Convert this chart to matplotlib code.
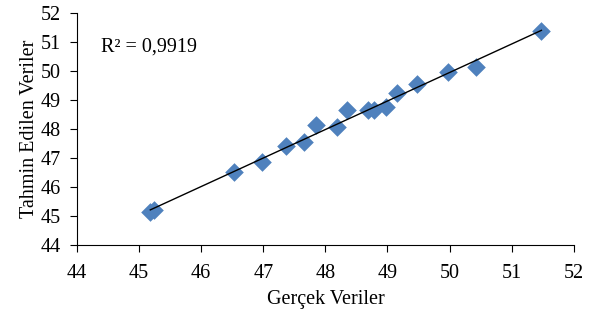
import numpy as np
import matplotlib.pyplot as plt

plt.rcParams['font.family'] = ['Liberation Serif', 'DejaVu Serif']

# gercek (actual) vs tahmin (predicted)
gercek = [45.18, 45.24, 46.53, 46.98, 47.37, 47.66, 47.85, 48.18, 48.35,
          48.69, 48.79, 48.98, 49.16, 49.48, 49.98, 50.42, 51.48]
tahmin = [45.15, 45.22, 46.52, 46.86, 47.41, 47.55, 48.14, 48.05, 48.66,
          48.65, 48.65, 48.76, 49.24, 49.55, 49.95, 50.14, 51.38]
ticks = [44, 45, 46, 47, 48, 49, 50, 51, 52]

x = np.array(gercek)
y = np.array(tahmin)
k, b = np.polyfit(x, y, 1)

fig = plt.figure(figsize=(6.02, 3.14), dpi=100)
ax = fig.add_axes([0.128, 0.22, 0.825, 0.739])

ax.scatter(x, y, marker='D', s=90, color='#4F81BD', zorder=2, linewidths=0)
xx = np.array([x.min(), x.max()])
ax.plot(xx, k * xx + b, color='black', lw=1, zorder=3)

ax.set_xlim(44, 52)
ax.set_ylim(44, 52)
ax.set_xticks(ticks)
ax.set_yticks(ticks)
ax.tick_params(labelsize=14.5, direction='out', length=5, color='black')
ax.tick_params(axis='x', pad=9)
ax.tick_params(axis='y', pad=7)
for s in ['top', 'right']:
    ax.spines[s].set_visible(False)
ax.set_xlabel('Gerçek Veriler', fontsize=14.5, labelpad=5)
ax.set_ylabel('Tahmin Edilen Veriler', fontsize=14.5, labelpad=1)
ax.text(44.38, 50.83, 'R² = 0,9919', fontsize=14.5, va='center')

fig.savefig('out.png', dpi=100)
